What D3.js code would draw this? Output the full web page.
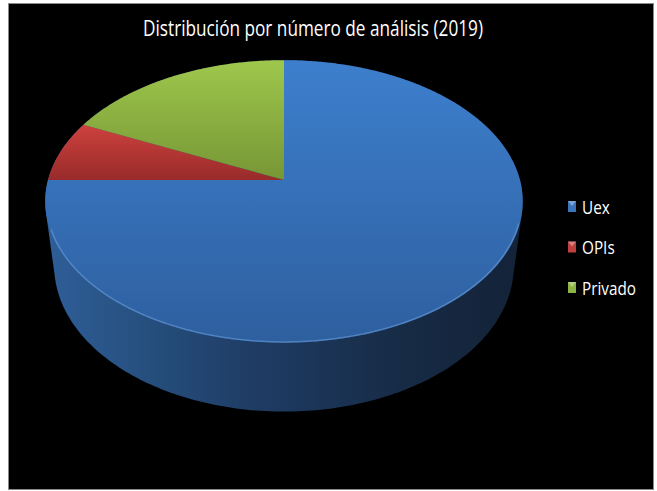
<!DOCTYPE html>
<html>
<head>
<meta charset="utf-8">
<script src="https://cdn.jsdelivr.net/npm/d3@7/dist/d3.min.js"></script>
<style>
  html, body { margin: 0; padding: 0; background: #ffffff; }
  svg { display: block; }
</style>
</head>
<body>
<script>
// Distribución por número de análisis (2019)
const title = "Distribución por número de análisis (2019)";
const categories = ["Uex", "OPIs", "Privado"];
const values = [75, 7, 18];

// slice styling: top colour, bottom colour
const sliceTop = ["#3d7fcd", "#cd413e", "#9fc74c"];
const sliceBottom = ["#2e5f9f", "#982b2a", "#769635"];
const legendColor = ["#3a74bb", "#c0403d", "#8db246"];

const FONT = "'Open Sans', sans-serif";
const W = 657, H = 491;
const svg = d3.select("body").append("svg").attr("width", W).attr("height", H);
const defs = svg.append("defs");

// black chart area
svg.append("rect")
  .attr("x", 8.5).attr("y", 3.5).attr("width", 645).attr("height", 486)
  .attr("fill", "#000").attr("stroke", "#8a8a8a").attr("stroke-width", 1);

// title
svg.append("text")
  .attr("x", 313).attr("y", 36)
  .attr("text-anchor", "middle")
  .attr("fill", "#ffffff")
  .attr("font-family", FONT)
  .attr("font-size", 21)
  .attr("textLength", 340)
  .attr("lengthAdjust", "spacingAndGlyphs")
  .text(title);

// 3D perspective pie geometry
const cx = 284, cy = 180;          // projected centre of the top face
const R = 236;                     // disc radius
const tilt = 35.8 * Math.PI / 180; // camera tilt
const Dcam = 1262;                 // camera distance
const depth = 83;                  // thickness of the disc

function proj(theta, r, y3) {
  const X = r * Math.sin(theta);
  const Z = -r * Math.cos(theta);
  const v = y3 * Math.cos(tilt) - Z * Math.sin(tilt);
  const d = y3 * Math.sin(tilt) + Z * Math.cos(tilt);
  const s = Dcam / (Dcam - d);
  return [cx + X * s, cy - v * s];
}

const pie = d3.pie().sort(null).value(d => d);
const arcs = pie(values);

// outer silhouette of the cylinder = hull of top and bottom rims
const rimPts = [];
for (let i = 0; i < 360; i++) {
  const t = i * Math.PI / 180;
  rimPts.push(proj(t, R, 0));
  rimPts.push(proj(t, R, -depth));
}
const hull = d3.polygonHull(rimPts);

const sideGrad = defs.append("linearGradient")
  .attr("id", "side").attr("gradientUnits", "userSpaceOnUse")
  .attr("x1", 44).attr("y1", 0).attr("x2", 524).attr("y2", 0);
[[0, "#2f5e99"], [0.2, "#26507f"], [0.45, "#1e3b63"], [0.75, "#172b45"], [1, "#132237"]]
  .forEach(([o, c]) => sideGrad.append("stop").attr("offset", o).attr("stop-color", c));

const line = d3.line();
svg.append("path")
  .attr("d", line(hull) + "Z")
  .attr("fill", "url(#side)");

// top faces
arcs.forEach((a, i) => {
  const pts = [proj(0, 0, 0)];
  const n = Math.max(2, Math.ceil((a.endAngle - a.startAngle) / 0.01));
  for (let k = 0; k <= n; k++) {
    const t = a.startAngle + (a.endAngle - a.startAngle) * k / n;
    pts.push(proj(t, R, 0));
  }
  const ys = pts.map(p => p[1]);
  const g = defs.append("linearGradient")
    .attr("id", "top" + i).attr("gradientUnits", "userSpaceOnUse")
    .attr("x1", 0).attr("x2", 0)
    .attr("y1", d3.min(ys)).attr("y2", d3.max(ys));
  g.append("stop").attr("offset", 0).attr("stop-color", sliceTop[i]);
  g.append("stop").attr("offset", 1).attr("stop-color", sliceBottom[i]);
  svg.append("path")
    .attr("d", line(pts) + "Z")
    .attr("fill", `url(#top${i})`);
});

// bevel highlight along the front rim of the top face
const bevel = [];
for (let i = 215; i <= 500; i++) bevel.push(proj(i * Math.PI / 360, R - 1, 0));
svg.append("path")
  .attr("d", line(bevel))
  .attr("fill", "none")
  .attr("stroke", "#6fa3e0")
  .attr("stroke-opacity", 0.5)
  .attr("stroke-width", 1.5);

// legend
const legendY = d3.scalePoint().domain(categories).range([207, 288]);
const lg = svg.append("g");
categories.forEach((c, i) => {
  const y = legendY(c);
  lg.append("rect")
    .attr("x", 568).attr("y", y - 6).attr("width", 8).attr("height", 11)
    .attr("fill", legendColor[i]);
  lg.append("path")
    .attr("d", `M568,${y - 6}L576,${y - 6}L572,${y - 1}Z`)
    .attr("fill", "#ffffff").attr("fill-opacity", 0.35);
  const t = lg.append("text")
    .attr("x", 582).attr("y", y + 6.5)
    .attr("fill", "#ffffff")
    .attr("font-family", FONT)
    .attr("font-size", 18)
    .text(c);
  // condense the label to a narrow face
  const w = t.node().getComputedTextLength();
  t.attr("textLength", w * 0.85).attr("lengthAdjust", "spacingAndGlyphs");
});
</script>
</body>
</html>
